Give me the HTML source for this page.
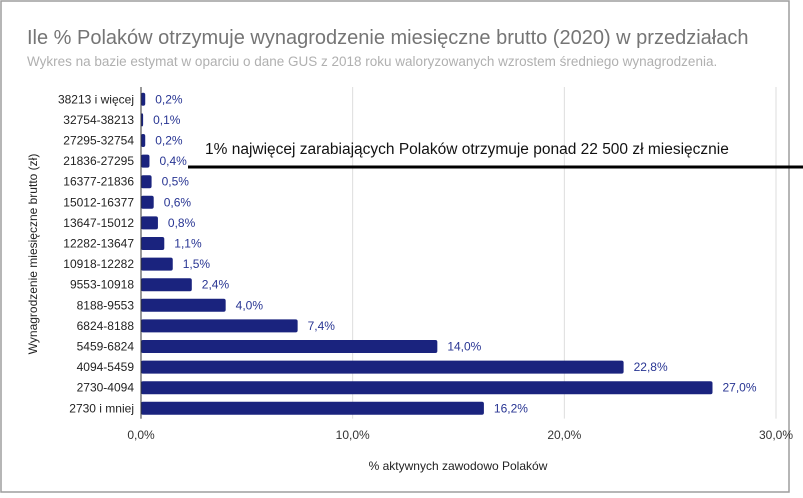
<!DOCTYPE html>
<html><head><meta charset="utf-8"><style>
body{margin:0;background:#fff;font-family:"Liberation Sans",sans-serif;}
svg{display:block}
</style></head><body>
<svg id="c" width="803" height="498">
<rect x="1" y="1" width="788" height="491" fill="#fff" stroke="#9e9e9e" stroke-width="1.5"/>
<text x="27" y="44" font-size="20" fill="#757575">Ile % Polaków otrzymuje wynagrodzenie miesięczne brutto (2020) w przedziałach</text>
<text x="27" y="66" font-size="13.5" fill="#b0b0b0">Wykres na bazie estymat w oparciu o dane GUS z 2018 roku waloryzowanych wzrostem średniego wynagrodzenia.</text>
<g id="grid"></g><g id="bars"></g>
<line x1="188" y1="167" x2="803" y2="167" stroke="#000" stroke-width="3"/>
<text x="205" y="154" font-size="15.5" fill="#111">1% najwięcej zarabiających Polaków otrzymuje ponad 22 500 zł miesięcznie</text>
<text x="458" y="470" font-size="12" fill="#222" text-anchor="middle">% aktywnych zawodowo Polaków</text>
<text transform="translate(37,254) rotate(-90)" font-size="12" fill="#222" text-anchor="middle">Wynagrodzenie miesięczne brutto (zł)</text>
</svg>
<script>
const categories=["38213 i więcej","32754-38213","27295-32754","21836-27295","16377-21836","15012-16377","13647-15012","12282-13647","10918-12282","9553-10918","8188-9553","6824-8188","5459-6824","4094-5459","2730-4094","2730 i mniej"];
const values=[0.2,0.1,0.2,0.4,0.5,0.6,0.8,1.1,1.5,2.4,4.0,7.4,14.0,22.8,27.0,16.2];
const ticks=[0,10,20,30];
const NS="http://www.w3.org/2000/svg";
const x0=141,pxPer=(776-141)/30,yTop=89,step=20.6,bh=13;
const xs=v=>x0+v*pxPer;
const ys=i=>yTop+i*step+step/2;
const fmt=v=>v.toFixed(1).replace('.',',')+'%';
function mk(tag,attrs,parent,txt){const e=document.createElementNS(NS,tag);for(const k in attrs)e.setAttribute(k,attrs[k]);if(txt!=null)e.textContent=txt;parent.appendChild(e);return e;}
const g=document.getElementById('grid'),b=document.getElementById('bars');
ticks.forEach(t=>{
  const l=mk('line',{x1:xs(t),x2:xs(t),y1:yTop-2,y2:yTop+categories.length*step,stroke:t===0?'#333':'#ddd','stroke-width':1},g);
  
  
  const tx=mk('text',{x:xs(t),y:439,'font-size':12,fill:'#333','text-anchor':'middle'},g,fmt(t));
  
  
});
categories.forEach((c,i)=>{
  const y=ys(i);
  const lab=mk('text',{x:134,y:y+4,'font-size':12,fill:'#222','text-anchor':'end'},b,c);
  
  
  const w=Math.max(xs(values[i])-x0,1.5);
  const r=mk('rect',{x:x0,y:y-bh/2,width:w,height:bh,rx:2,fill:'#1a237e'},b);
  
  
  const v=mk('text',{x:x0+w+10,y:y+4,'font-size':12,fill:'#283593'},b,fmt(values[i]));
  
  
});
// redraw zero axis on top
const ax=mk('line',{x1:x0,x2:x0,y1:yTop-2,y2:yTop+categories.length*step,stroke:'#333','stroke-width':1},b);


</script>
</body></html>
